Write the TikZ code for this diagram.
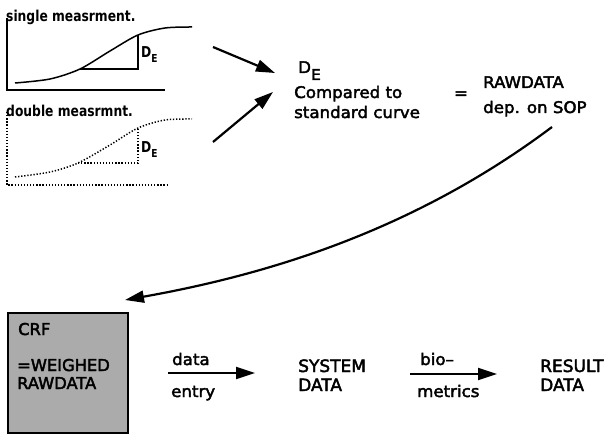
\documentclass[tikz,border=0pt]{standalone}
\usepackage{fontspec}
\setmainfont{DejaVu Sans}
\newfontfamily\lblfont[FakeStretch=1.04,FakeBold=2.5]{DejaVu Sans}
\newfontfamily\boxfont[FakeBold=2.5]{DejaVu Sans}
\newfontfamily\ttlfont[FakeStretch=0.82]{DejaVu Sans}
\usetikzlibrary{arrows.meta}
\tikzset{
  txt/.style={inner sep=0pt, anchor=base west, font=\lblfont\fontsize{16}{19}\selectfont},
  bigtxt/.style={inner sep=0pt, anchor=base west, font=\boxfont\fontsize{17}{20}\selectfont},
  boxtxt/.style={inner sep=0pt, anchor=base west, font=\boxfont\fontsize{16.3}{19}\selectfont},
  ttl/.style={inner sep=0pt, anchor=base west, font=\ttlfont\bfseries\fontsize{15}{17}\selectfont},
  dlbl/.style={inner sep=0pt, anchor=base west, font=\ttlfont\bfseries\fontsize{15}{17}\selectfont},
  axisline/.style={line width=1.4pt},
  dotline/.style={line width=1.5pt, dash pattern=on 1.3pt off 1.8pt},
  arr/.style={line width=2.2pt, -{Triangle[length=19pt,width=12pt]}},
  crfbox/.style={draw, line width=2.2pt, fill=black!33, minimum width=120pt, minimum height=120pt, inner sep=0pt}
}
\begin{document}
\begin{tikzpicture}[x=1pt,y=-1pt]
\useasboundingbox (0,0) rectangle (608,436);
% ---- panel 1: single measurement
\node[ttl] (t1) at (6,22) {single measrment.};
\draw[axisline] (7,18) -- (7,90) -- (165,90);
\draw[line width=1.5pt] plot[smooth] coordinates {(15,83) (50,79) (80,69) (110,51) (138,35) (165,28) (192,27)};
\draw[line width=1.4pt] (80,69) -- (138,69) -- (138,35);
\node[dlbl] (d1) at (141,58) {D\raisebox{-5pt}{\fontsize{11}{11}\selectfont E}};
% ---- panel 2: double measurement
\node[ttl] (t2) at (6,116) {double measrmnt.};
\draw[dotline] (7,112) -- (7,185) -- (168,185);
\draw[dotline] plot[smooth] coordinates {(15,177) (50,172) (78,163) (110,145) (138,128) (165,120) (192,119)};
\draw[dotline] (78,163) -- (138,163) -- (138,128);
\node[dlbl] (d2) at (141,152) {D\raisebox{-5pt}{\fontsize{11}{11}\selectfont E}};
% ---- arrows to comparison
\coordinate (a1s) at (213,47);
\coordinate (a1e) at (275,73);
\coordinate (a2s) at (213,142);
\coordinate (a2e) at (273,92);
\draw[arr] (a1s) -- (a1e);
\draw[arr] (a2s) -- (a2e);
% ---- comparison text
\node[txt] (de) at (298,73) {D\raisebox{-7pt}{\fontsize{15}{15}\selectfont E}};
\node[txt] (cmp1) at (294,98) {Compared to};
\node[txt] (cmp2) at (294,118) {standard curve};
\node[inner sep=0pt, font=\lblfont\fontsize{16}{19}\selectfont] (eq) at (461,95) {=};
\node[txt] (raw1) at (483,88) {RAWDATA};
\node[txt] (raw2) at (483,113) {dep. on SOP};
% ---- big curved arrow
\coordinate (cs) at (552,127);
\coordinate (ce) at (125,300);
\draw[arr] (cs) .. controls (412,232) and (265,275) .. (ce);
% ---- CRF box
\node[crfbox] (crf) at (68,373) {};
\node[boxtxt] (crf1) at (18,335) {CRF};
\node[boxtxt] (crf2) at (17,371) {=WEIGHED};
\node[boxtxt] (crf3) at (17,389) {RAWDATA};
% ---- data entry
\coordinate (de1) at (168,373);
\coordinate (de2) at (255,373);
\draw[arr] (de1) -- (de2);
\node[txt] (dat) at (172,365) {data};
\node[txt] (ent) at (171,397) {entry};
% ---- system data
\node[bigtxt] (sys1) at (298,372) {SYSTEM};
\node[bigtxt] (sys2) at (298,391) {DATA};
% ---- biometrics
\coordinate (bm1) at (410,374);
\coordinate (bm2) at (497,374);
\draw[arr] (bm1) -- (bm2);
\node[txt] (bio) at (420,365) {bio–};
\node[txt] (met) at (417,397) {metrics};
% ---- result data
\node[bigtxt] (res1) at (540,372) {RESULT};
\node[bigtxt] (res2) at (540,391) {DATA};
\end{tikzpicture}
\end{document}
